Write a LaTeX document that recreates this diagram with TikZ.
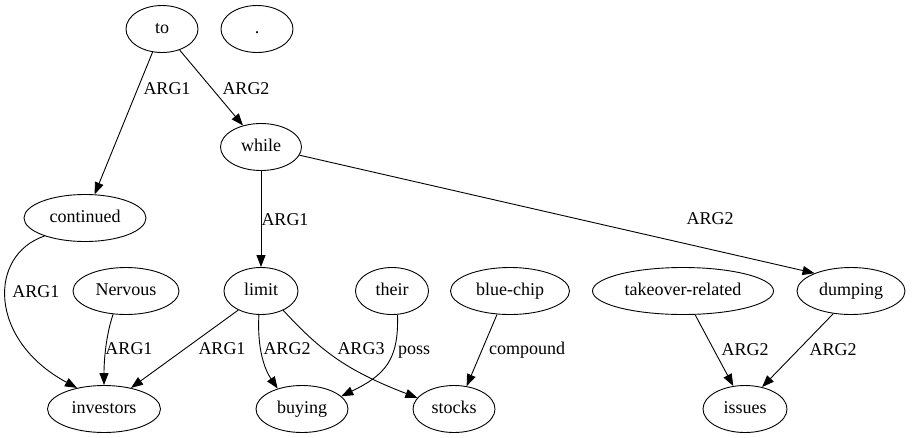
\documentclass[tikz,border=0pt]{standalone}
\usepackage{fontspec}
\setmainfont{Liberation Serif}
\newfontfamily\graphfont{Liberation Serif}
\usetikzlibrary{shapes.geometric,arrows.meta}
\begin{document}
\begin{tikzpicture}[x=1pt,y=-1pt,
  every node/.style={font=\graphfont\fontsize{18}{22}\selectfont, text height=12.6pt, text depth=4.5pt, inner sep=0pt},
  nd/.style={draw, ellipse, line width=0.9pt, minimum height=47pt},
  lab/.style={},
  edge/.style={line width=0.9pt, -{Triangle[length=12pt,width=9pt]}}]
\useasboundingbox (0,0) rectangle (915,437);
% nodes
\node[nd, minimum width=72pt] (to) at (162,29) {to};
\node[nd, minimum width=72pt] (dot) at (257,29) {.};
\node[nd, minimum width=81pt] (while) at (261,147) {while};
\node[nd, minimum width=122pt] (continued) at (85,218) {continued};
\node[nd, minimum width=106pt] (nervous) at (126,291) {Nervous};
\node[nd, minimum width=74pt] (limit) at (261,291) {limit};
\node[nd, minimum width=73pt] (their) at (392,291) {their};
\node[nd, minimum width=119pt] (bluechip) at (510,291) {blue-chip};
\node[nd, minimum width=181pt] (takeover) at (683,291) {takeover-related};
\node[nd, minimum width=108pt] (dumping) at (851,291) {dumping};
\node[nd, minimum width=113pt] (investors) at (104,409) {investors};
\node[nd, minimum width=92pt] (buying) at (302,409) {buying};
\node[nd, minimum width=82pt] (stocks) at (454,409) {stocks};
\node[nd, minimum width=84pt] (issues) at (745,409) {issues};
% labels
\node[lab] (l1) at (167,90) {ARG1};
\node[lab] (l2) at (246,90) {ARG2};
\node[lab] (l3) at (285,221) {ARG1};
\node[lab] (l4) at (710,220) {ARG2};
\node[lab] (l5) at (36,293) {ARG1};
\node[lab] (l6) at (129,350) {ARG1};
\node[lab] (l7) at (222,350) {ARG1};
\node[lab] (l8) at (287,350) {ARG2};
\node[lab] (l9) at (361,350) {ARG3};
\node[lab] (l10) at (414,350) {poss};
\node[lab] (l11) at (527,350) {compound};
\node[lab] (l12) at (745,351) {ARG2};
\node[lab] (l13) at (833,351) {ARG2};
% edges
\draw[edge] (to) -- (continued);
\draw[edge] (to) -- (while);
\draw[edge] (while) -- (limit);
\draw[edge] (while.-12) -- (dumping.154);
\draw[edge] (continued.-156) .. controls (-12,255) and (-12,340) .. (investors.142);
\draw[edge] (nervous.-119) .. controls (106,335) and (104,360) .. (investors.north);
\draw[edge] (limit.-140) -- (investors.38);
\draw[edge] (limit.-95) .. controls (257,350) and (265,370) .. (buying.140);
\draw[edge] (limit.-41) .. controls (320,350) and (345,370) .. (stocks.163);
\draw[edge] (their.-77) .. controls (399,360) and (385,375) .. (buying.18);
\draw[edge] (bluechip.-119) -- (stocks.61);
\draw[edge] (takeover.-63) -- (issues.117);
\draw[edge] (dumping.-128) -- (issues.52);
\end{tikzpicture}
\end{document}
